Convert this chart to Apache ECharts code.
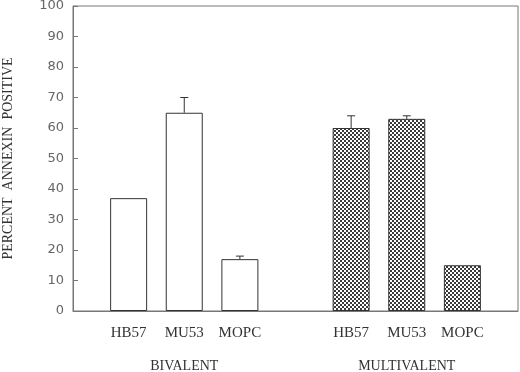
<!DOCTYPE html>
<html>
<head>
<meta charset="utf-8">
<script src="https://cdn.jsdelivr.net/npm/echarts@6/dist/echarts.min.js"></script>
<style>
  html, body { margin: 0; padding: 0; background: #fff; }
  #chart { width: 520px; height: 372px; }
</style>
</head>
<body>
<div id="chart"></div>
<script>
const categories = ['HB57', 'MU53', 'MOPC'];
const groups = ['BIVALENT', 'MULTIVALENT'];
const bivalentPos = [1, 2, 3];
const multivalentPos = [5, 6, 7];
const groupPos = [2, 6];
const bivalent = [37, 65, 17];
const bivalentErr = [0, 5, 1];
const multivalent = [60, 63, 15];
const multivalentErr = [4, 1, 0];

// crosshatch fill for the multivalent bars
function checker() {
  const c = document.createElement('canvas');
  c.width = 4; c.height = 4;
  const ctx = c.getContext('2d');
  ctx.fillStyle = '#fff';
  ctx.fillRect(0, 0, 4, 4);
  ctx.fillStyle = '#3a3a3a';
  ctx.fillRect(0, 0, 2, 2);
  ctx.fillRect(2, 2, 2, 2);
  return c;
}

const catLabel = {};
bivalentPos.forEach((p, i) => catLabel[p] = categories[i]);
multivalentPos.forEach((p, i) => catLabel[p] = categories[i]);
const grpLabel = {};
groupPos.forEach((p, i) => grpLabel[p] = groups[i]);

const errData = bivalentPos.map((p, i) => [p, bivalent[i], bivalentErr[i]])
  .concat(multivalentPos.map((p, i) => [p, multivalent[i], multivalentErr[i]]));

const chart = echarts.init(document.getElementById('chart'));
chart.setOption({
  animation: false,
  backgroundColor: '#fff',
  grid: {
    left: 73, right: 2, top: 6, bottom: 61, outerBoundsMode: 'none', containLabel: false,
    show: true, borderColor: '#777', borderWidth: 1
  },
  xAxis: [
    {
      type: 'value', min: 0, max: 8, interval: 1,
      axisLine: { lineStyle: { color: '#777' } },
      axisTick: { show: false },
      splitLine: { show: false },
      axisLabel: {
        margin: 15, color: '#333', fontFamily: 'Liberation Serif', fontSize: 15,
        formatter: v => catLabel[v] || ''
      }
    },
    {
      type: 'value', min: 0, max: 8, interval: 1, position: 'bottom',
      axisLine: { show: false },
      axisTick: { show: false },
      splitLine: { show: false },
      axisLabel: {
        margin: 48, color: '#333', fontFamily: 'Liberation Serif', fontSize: 14,
        formatter: v => grpLabel[v] || ''
      }
    }
  ],
  yAxis: {
    type: 'value', min: 0, max: 100, interval: 10,
    name: 'PERCENT  ANNEXIN  POSITIVE',
    nameLocation: 'middle', nameGap: 58,
    nameTextStyle: { color: '#333', fontFamily: 'Liberation Serif', fontSize: 14 },
    axisLine: { show: true, lineStyle: { color: '#777' } },
    axisTick: { show: true, inside: true, length: 5, lineStyle: { color: '#777' } },
    splitLine: { show: false },
    axisLabel: { margin: 9, color: '#666', fontFamily: 'DejaVu Sans', fontSize: 13 }
  },
  series: [
    {
      name: 'Bivalent', type: 'bar', barWidth: 37, barGap: '-100%',
      data: bivalentPos.map((p, i) => [p, bivalent[i]]),
      itemStyle: { color: '#fff', borderColor: '#333', borderWidth: 1 }
    },
    {
      name: 'Multivalent', type: 'bar', barWidth: 37, barGap: '-100%',
      data: multivalentPos.map((p, i) => [p, multivalent[i]]),
      itemStyle: { color: { image: checker(), repeat: 'repeat' }, borderColor: '#333', borderWidth: 1 }
    },
    {
      name: 'Error', type: 'custom', z: 5,
      data: errData,
      renderItem: (params, api) => {
        const err = api.value(2);
        if (!err) return null;
        const base = api.coord([api.value(0), api.value(1)]);
        const top = api.coord([api.value(0), api.value(1) + err]);
        const style = { stroke: '#333', lineWidth: 1 };
        return {
          type: 'group',
          children: [
            { type: 'line', shape: { x1: base[0], y1: base[1], x2: top[0], y2: top[1] }, style },
            { type: 'line', shape: { x1: top[0] - 4, y1: top[1], x2: top[0] + 4, y2: top[1] }, style }
          ]
        };
      }
    }
  ]
});
</script>
</body>
</html>
